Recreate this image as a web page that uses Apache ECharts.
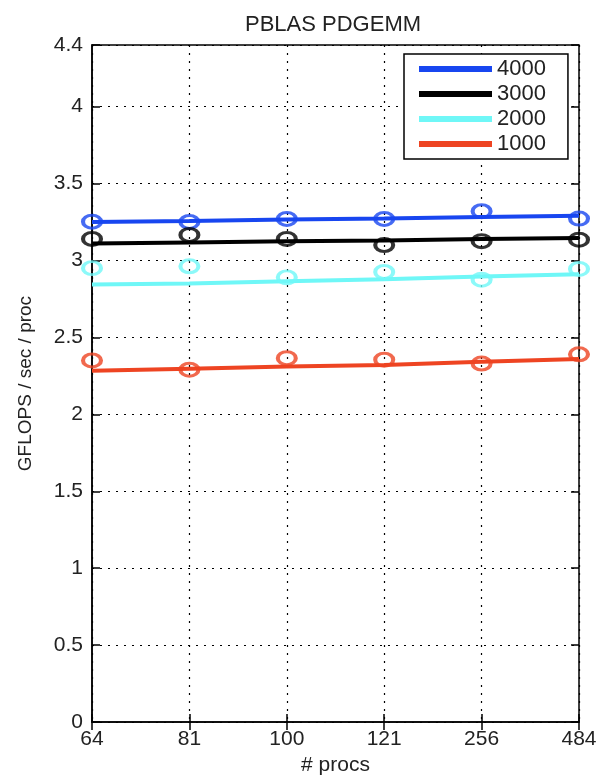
<!DOCTYPE html>
<html>
<head>
<meta charset="utf-8">
<script src="https://cdn.jsdelivr.net/npm/echarts@6/dist/echarts.min.js"></script>
<style>
html, body { margin: 0; padding: 0; background: #fff; }
#chart { width: 604px; height: 781px; }
</style>
</head>
<body>
<div id="chart"></div>
<script>
var procs = ['64', '81', '100', '121', '256', '484'];
var sizes = ['4000', '3000', '2000', '1000'];
var colors = ['#1846f0', '#000000', '#6ff7f7', '#ee4422'];

// measured points (circles)
var meas4000 = [3.252, 3.25, 3.27, 3.27, 3.32, 3.272];
var meas3000 = [3.14, 3.166, 3.14, 3.10, 3.125, 3.135];
var meas2000 = [2.95, 2.962, 2.89, 2.925, 2.875, 2.945];
var meas1000 = [2.35, 2.29, 2.365, 2.355, 2.33, 2.39];

// fitted lines
var fit4000 = [3.25, 3.257, 3.266, 3.272, 3.283, 3.29];
var fit3000 = [3.11, 3.117, 3.124, 3.13, 3.139, 3.146];
var fit2000 = [2.843, 2.85, 2.864, 2.877, 2.896, 2.91];
var fit1000 = [2.283, 2.296, 2.31, 2.32, 2.342, 2.36];

var yLabels = [0, 0.5, 1, 1.5, 2, 2.5, 3, 3.5, 4, 4.4];

var dom = document.getElementById('chart');
var myChart = echarts.init(dom);

var fits = [fit4000, fit3000, fit2000, fit1000];
var meas = [meas4000, meas3000, meas2000, meas1000];
var font = 'Liberation Sans';
var ring = 'path://M0,10 A10,10 0 1,1 20,10 A10,10 0 1,1 0,10 Z';

var series = [];
sizes.forEach(function (s, i) {
    series.push({
        name: s,
        type: 'line',
        data: fits[i],
        showSymbol: false,
        symbol: 'none',
        lineStyle: { color: colors[i], width: 4 },
        itemStyle: { color: colors[i] },
        z: 3
    });
});
sizes.forEach(function (s, i) {
    series.push({
        name: s + ' data',
        type: 'scatter',
        data: meas[i],
        symbol: ring,
        symbolSize: [18, 13],
        itemStyle: { color: 'rgba(0,0,0,0)', borderColor: colors[i], borderWidth: 3.5 },
        z: 4
    });
});

var option = {
    backgroundColor: '#fff',
    animation: false,
    title: {
        text: 'PBLAS PDGEMM',
        left: 240,
        top: 9,
        textStyle: { fontFamily: font, fontWeight: 'normal', fontSize: 22, color: '#222' }
    },
    legend: {
        data: sizes,
        orient: 'vertical',
        left: 404,
        top: 54,
        width: 140,
        padding: [4, 22, 4, 15],
        itemGap: 3,
        itemWidth: 73,
        itemHeight: 6,
        icon: 'rect',
        backgroundColor: '#fff',
        borderColor: '#000',
        borderWidth: 1.5,
        textStyle: { fontFamily: font, fontSize: 22, color: '#222' }
    },
    grid: {
        left: 92,
        right: 25,
        top: 45,
        bottom: 53,
        show: true,
        borderColor: '#000',
        borderWidth: 1.5
    },
    xAxis: [{
        type: 'category',
        data: procs,
        boundaryGap: false,
        name: '# procs',
        nameLocation: 'middle',
        nameGap: 31,
        nameTextStyle: { fontFamily: font, fontSize: 21, color: '#222' },
        axisLine: { lineStyle: { color: '#000', width: 1.5 } },
        axisTick: { inside: true, length: 8, lineStyle: { color: '#000', width: 1.5 } },
        axisLabel: { fontFamily: font, fontSize: 21, color: '#222', margin: 7 },
        splitLine: { show: true, lineStyle: { color: '#000', type: [2, 6], width: 1.2 } }
    }, {
        type: 'category',
        data: procs,
        boundaryGap: false,
        position: 'top',
        axisLine: { show: false },
        axisTick: { inside: true, length: 8, lineStyle: { color: '#000', width: 1.5 } },
        axisLabel: { show: false },
        splitLine: { show: false }
    }],
    yAxis: [{
        type: 'value',
        min: 0,
        max: 4.4,
        interval: 0.5,
        name: 'GFLOPS / sec / proc',
        nameLocation: 'middle',
        nameGap: 57,
        nameTextStyle: { fontFamily: font, fontSize: 19, color: '#222' },
        axisLine: { show: true, lineStyle: { color: '#000', width: 1.5 } },
        axisTick: { show: true, inside: true, length: 8, lineStyle: { color: '#000', width: 1.5 }, customValues: yLabels },
        axisLabel: { fontFamily: font, fontSize: 21, color: '#222', margin: 9, customValues: yLabels },
        splitLine: { show: true, lineStyle: { color: '#000', type: [2, 6], width: 1.2 } }
    }, {
        type: 'value',
        min: 0,
        max: 4.4,
        interval: 0.5,
        position: 'right',
        axisLine: { show: false },
        axisTick: { show: true, inside: true, length: 8, lineStyle: { color: '#000', width: 1.5 } },
        axisLabel: { show: false },
        splitLine: { show: false }
    }],
    series: series
};

if (option && typeof option === 'object') {
    myChart.setOption(option, true);
}
</script>
</body>
</html>
